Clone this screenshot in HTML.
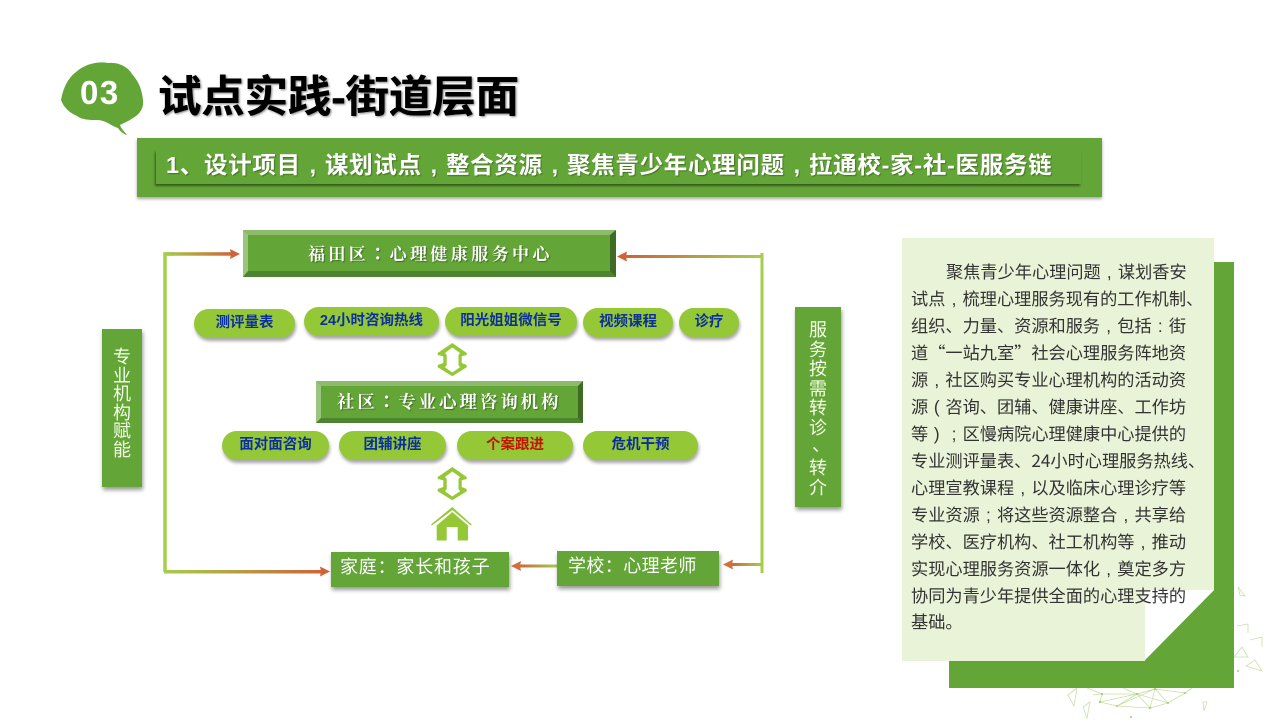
<!DOCTYPE html>
<html><head><meta charset="utf-8"><title>试点实践-街道层面</title>
<style>
html,body{margin:0;padding:0;background:#fff}
#s{position:relative;width:1280px;height:720px;overflow:hidden;background:#fff;font-family:"Liberation Sans","Noto Sans CJK SC",sans-serif}
#s>*{position:absolute}
.t{white-space:nowrap}
.box{background:#63a537;box-shadow:1px 3px 4px rgba(0,0,0,.4)}
.pill{height:29px;line-height:29px;border-radius:15px;background:#95c837;box-shadow:1px 3px 3px rgba(0,0,0,.35);text-align:center;color:#0b2f9c;font-size:14.500px;font-weight:bold;white-space:nowrap}
.bev{color:#fff;font-family:"Liberation Serif","Noto Serif CJK SC",serif;font-weight:bold;white-space:nowrap;text-shadow:1px 1px 1px rgba(0,0,0,.35)}
.lb{color:#fff;font-size:18px;white-space:nowrap;font-family:"Liberation Sans","Noto Sans CJK SC",sans-serif}
.v{color:#f4ffe8;text-align:center}
.v div{position:absolute;left:0;width:100%;text-align:center}
.p{left:911px;margin-top:-2px;font-family:"Noto Sans CJK SC",sans-serif;font-size:17.200px;line-height:27px;height:27px;color:#333;white-space:nowrap}
.k{font-family:"Noto Sans CJK TC",sans-serif}
.c{display:inline-block;width:1em;text-align:center;text-indent:0;letter-spacing:0;font-family:"Liberation Sans",sans-serif}
.b .c{width:calc(1em + .7px)}
</style></head><body><div id="s">

<svg style="left:0;top:0" width="1280" height="720" viewBox="0 0 1280 720">
<defs>
<linearGradient id="g1" x1="0" x2="1" y1="0" y2="0"><stop offset="0" stop-color="#a3cf4b"/><stop offset="1" stop-color="#cf6237"/></linearGradient>
<linearGradient id="g2" x1="1" x2="0" y1="0" y2="0"><stop offset="0" stop-color="#a3cf4b"/><stop offset="1" stop-color="#cf6237"/></linearGradient>
</defs>
<g fill="none" stroke="#c9e0a8" stroke-width=".8">
<path d="M1238 587l7 9-5-1zM1237 626l11-2v9M1250 640l12-3v10M1242 647l-8 10h14zM1262 671l-7-11-9 6zM1077 688l-9 7 6 11zM1090 702l-7 5 4 11zM1203 702h4l-3 9z"/>
<path d="M1087 688l15 6-2 8 17 4 20-12 18-5-5 19 18-5 17-10 7-5M1100 702l37-8 13 14M1102 694l35 0 31 9M1123 688l14 6 18-5 13 14M1117 706l33 2M1137 694l-20 12M1155 689l-38 17M1093 695l9-1M1185 693l-17 10M1155 689l30 4"/>
</g>
<g fill="#a6cc6a"><circle cx="1238" cy="671" r="1"/><circle cx="1102" cy="694" r="1.100"/><circle cx="1100" cy="702" r="1.100"/><circle cx="1117" cy="706" r="1"/><circle cx="1137" cy="694" r="1.100"/><circle cx="1155" cy="689" r="1.100"/><circle cx="1150" cy="708" r="1.100"/><circle cx="1168" cy="703" r="1"/><circle cx="1185" cy="693" r="1"/><circle cx="1131" cy="717" r="1"/></g>

<path d="M61 100C63 88 68 78 76 72C85 64 98 61 108 63C118 62 127 66 132 74C139 82 142 90 143 100C144 108 140 114 133 118C127 122 122 124 120 125C121 129 125 132 127 135C123 134 120 131 118 128C111 126 106 120 97 120C90 120 82 120 77 116C70 113 64 108 61 100Z" fill="#63a537"/>

<g stroke-linecap="butt" fill="none">
<path d="M165 572V254H175" stroke="#a3cf4b" stroke-width="3.500"/>
<path d="M762 253V573" stroke="#a3cf4b" stroke-width="3"/>
</g>
<rect x="164" y="252.200" width="70" height="3.500" fill="url(#g1)"/>
<path d="M240 254l-10-5 1 5-1 5z" fill="#cf6237"/>
<rect x="164" y="570" width="160" height="3.500" fill="url(#g1)"/>
<path d="M330 571.500l-10-5 1 5-1 5z" fill="#cf6237"/>
<rect x="624" y="255" width="138" height="3" fill="url(#g2)"/>
<path d="M617 256.500l10-5-1 5 1 5z" fill="#cf6237"/>
<rect x="730" y="563" width="32" height="3" fill="url(#g2)"/>
<path d="M723 564.500l10-5-1 5 1 5z" fill="#cf7040"/>
<rect x="518" y="564.500" width="39" height="3" fill="url(#g2)"/>
<path d="M511 566l10-5-1 5 1 5z" fill="#cf7040"/>

<g fill-rule="evenodd" fill="#95c837">
<path d="M452.300 467L466.700 477V479L461.700 480.300V487L466.700 489V491.300L452.300 500.300L437.700 491.300V489L443.300 487V480.300L437.700 479V477ZM452.300 471.500L445 477L446.700 479V489L445 491.300L452.300 496.500L460 491.300L458.500 489V479L460 477Z"/>
<path transform="translate(0,-124)" d="M452.300 467L466.700 477V479L461.700 480.300V487L466.700 489V491.300L452.300 500.300L437.700 491.300V489L443.300 487V480.300L437.700 479V477ZM452.300 471.500L445 477L446.700 479V489L445 491.300L452.300 496.500L460 491.300L458.500 489V479L460 477Z"/>
</g>

<path d="M452.300 507L471.700 524.500L471 525.500L452.300 510L432 525.500L431 524.500Z" fill="#95c837"/>
<path d="M452.300 512L468 525.500V540.500H457.700V527H446.700V540.500H436.700V525.500Z" fill="#95c837"/>

<path d="M1214 262h20v426H949v-28h196l69-70z" fill="#63a537"/>
<path d="M902 238h312v352h-69v71H902z" fill="#e9f3d8"/>
<path d="M1145 590h69l-69 70z" fill="#fff"/>

<path d="M243 230h373v47H243z" fill="#63a537"/>
<path d="M243 230h373l-6 5H248z" fill="#8dbb6c"/>
<path d="M243 230l5 5v36l-5 6z" fill="#9ac57f"/>
<path d="M243 277l5-6h362l6 6z" fill="#4e8430"/>
<path d="M616 230l-6 5v36l6 6z" fill="#3f6b26"/>

<path d="M316 381h267v42H316z" fill="#63a537"/>
<path d="M316 381h267l-5 5H321z" fill="#8dbb6c"/>
<path d="M316 381l5 5v32l-5 5z" fill="#9ac57f"/>
<path d="M316 423l5-5h257l5 5z" fill="#4e8430"/>
<path d="M583 381l-5 5v32l5 5z" fill="#3f6b26"/>
</svg>

<div class="t" style="left:158px;top:70px;font-size:43.600px;font-weight:bold;line-height:56px;color:#000;letter-spacing:-.25px;text-shadow:1px 1px 2px rgba(0,0,0,.5),-.4px 0 0 #000">试点实践-街道层面</div>
<div class="t" style="left:80px;top:73px;font-size:33px;font-weight:bold;line-height:40px;color:#fff;letter-spacing:1.500px">03</div>

<div style="left:137px;top:138px;width:965px;height:59px;background:#63a537;box-shadow:0 2px 3px rgba(0,0,0,.35)"></div>
<div style="left:156px;top:150px;width:925px;height:34px;background:#63a537;box-shadow:-1px 2px 2px rgba(0,0,0,.45)"></div>
<div class="t b" style="left:166px;top:149px;height:34px;line-height:33px;font-size:23.500px;font-weight:bold;color:#fff;letter-spacing:.7px;text-shadow:1px 1px 1px rgba(0,0,0,.3)">1、设计项目<span class="c">,</span>谋划试点<span class="c">,</span>整合资源<span class="c">,</span>聚焦青少年心理问题<span class="c">,</span>拉通校-家-社-医服务链</div>

<div class="bev" style="left:243px;top:230px;width:373px;height:47px;line-height:45px;font-size:17px;letter-spacing:3.400px;text-indent:65px">福田区<span class="k">：</span>心理健康服务中心</div>
<div class="bev" style="left:316px;top:381px;width:267px;height:42px;line-height:42px;font-size:17.500px;letter-spacing:2.900px;text-indent:21px">社区<span class="k">：</span>专业心理咨询机构</div>

<div class="pill" style="left:194px;top:309px;width:101px">测评量表</div>
<div class="pill" style="left:304px;top:307px;width:135px">24小时咨询热线</div>
<div class="pill" style="left:445px;top:307px;width:132px">阳光姐姐微信号</div>
<div class="pill" style="left:583px;top:308px;width:90px">视频课程</div>
<div class="pill" style="left:679px;top:308px;width:60px">诊疗</div>
<div class="pill" style="left:222px;top:431px;width:107px">面对面咨询</div>
<div class="pill" style="left:339px;top:431px;width:107px">团辅讲座</div>
<div class="pill" style="left:457px;top:431px;width:116px;color:#c01400">个案跟进</div>
<div class="pill" style="left:583px;top:431px;width:115px">危机干预</div>

<div class="box lb" style="left:331px;top:552px;width:178px;height:35px;line-height:31px;text-indent:9px;letter-spacing:.8px">家庭：家长和孩子</div>
<div class="box lb" style="left:557px;top:551px;width:162px;height:35px;line-height:31px;text-indent:11px;letter-spacing:.4px">学校：心理老师</div>

<div class="box v" style="left:102px;top:329px;width:40px;height:158px;font-size:18px;line-height:18px">
<div style="top:19px">专</div><div style="top:37.500px">业</div><div style="top:56px">机</div><div style="top:74.500px">构</div><div style="top:93px">赋</div><div style="top:111.500px">能</div></div>

<div class="box v" style="left:795px;top:307px;width:46px;height:200px;font-size:18px;line-height:20px">
<div style="top:13px">服</div><div style="top:32.500px">务</div><div style="top:52px">按</div><div style="top:71.500px">需</div><div style="top:91px">转</div><div style="top:110.500px">诊</div><div style="top:128px;left:3px">、</div><div style="top:151px">转</div><div style="top:171px">介</div></div>

<div class="p" style="left:946px;top:259px">聚焦青少年心理问题<span class="c">,</span>谋划香安</div>
<div class="p" style="top:286px">试点<span class="c">,</span>梳理心理服务现有的工作机制、</div>
<div class="p" style="top:313px">组织、力量、资源和服务<span class="c">,</span>包括<span class="c">:</span>街</div>
<div class="p" style="top:340px">道“一站九室”社会心理服务阵地资</div>
<div class="p" style="top:367px">源<span class="c">,</span>社区购买专业心理机构的活动资</div>
<div class="p" style="top:394px">源<span class="c">(</span>咨询、团辅、健康讲座、工作坊</div>
<div class="p" style="top:421px">等<span class="c">)</span><span class="c">;</span>区慢病院心理健康中心提供的</div>
<div class="p" style="top:448px">专业测评量表、24小时心理服务热线、</div>
<div class="p" style="top:475px">心理宣教课程<span class="c">,</span>以及临床心理诊疗等</div>
<div class="p" style="top:502px">专业资源<span class="c">;</span>将这些资源整合<span class="c">,</span>共享给</div>
<div class="p" style="top:529px">学校、医疗机构、社工机构等<span class="c">,</span>推动</div>
<div class="p" style="top:556px">实现心理服务资源一体化<span class="c">,</span>奠定多方</div>
<div class="p" style="top:583px">协同为青少年提供全面的心理支持的</div>
<div class="p" style="top:609px">基础。</div>

</div></body></html>
